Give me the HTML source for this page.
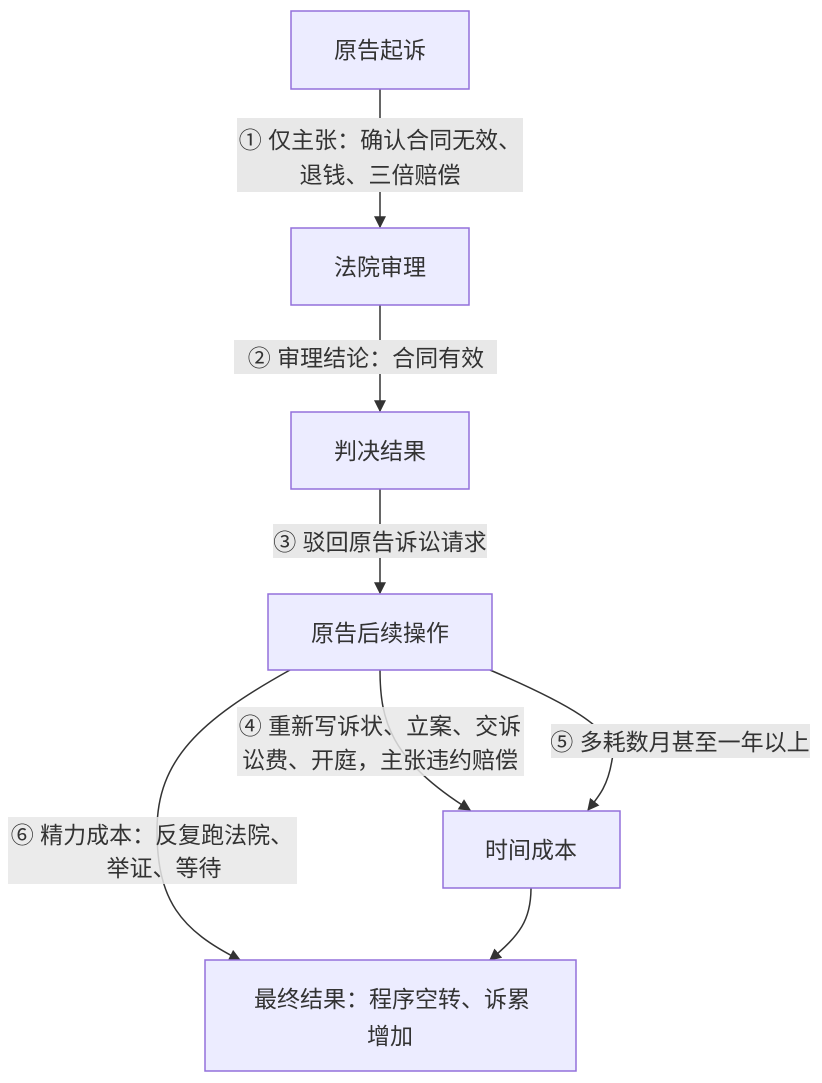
<!DOCTYPE html>
<html><head><meta charset="utf-8"><style>
html,body{margin:0;padding:0;background:#fff;width:822px;height:1083px;overflow:hidden}
text{font-family:"Liberation Sans","Noto Sans CJK SC",sans-serif;font-size:23px;fill:#333}
</style></head><body>
<svg width="822" height="1083" viewBox="0 0 822 1083" xmlns="http://www.w3.org/2000/svg">
<defs><marker id="a" viewBox="0 0 10 10" refX="9" refY="5" markerWidth="8" markerHeight="8" orient="auto"><path d="M0,0L10,5L0,10z" fill="#333"/></marker></defs>
<g stroke="#333" stroke-width="1.5" fill="none" marker-end="url(#a)">
<path d="M380,89V227"/>
<path d="M380,305V411"/>
<path d="M380,489V593"/>
<path d="M380,670C380,720 390,760 470,810"/>
<path d="M490,670C560,700 620,730 612,760C608,785 600,795 588,810"/>
<path d="M290,670C200,720 157,760 157,830C157,900 180,930 240,960"/>
<path d="M531,888C531,920 520,935 490,960"/>
</g>
<g fill="#e8e8e8">
<rect x="237" y="118" width="286" height="74"/>
<rect x="234" y="340" width="263" height="34"/>
<rect x="273" y="524" width="214" height="34"/>
<rect x="237" y="707" width="287" height="69" opacity="0.85"/>
<rect x="551" y="724" width="259" height="34"/>
<rect x="8" y="817" width="289" height="67" opacity="0.85"/>
</g>
<g fill="#ececff" stroke="#9370db" stroke-width="1.5">
<rect x="291" y="11" width="178" height="78"/>
<rect x="291" y="228" width="178" height="77"/>
<rect x="291" y="412" width="178" height="77"/>
<rect x="268" y="594" width="224" height="76"/>
<rect x="443" y="811" width="177" height="77"/>
<rect x="205" y="960" width="371" height="111"/>
</g>
<g text-anchor="middle">
<text x="380" y="58">原告起诉</text>
<text x="380" y="275">法院审理</text>
<text x="380" y="459">判决结果</text>
<text x="380" y="641">原告后续操作</text>
<text x="531" y="858">时间成本</text>
<text x="392" y="1007">最终结果：程序空转、诉累</text>
<text x="390" y="1044">增加</text>
<text x="380" y="148">① 仅主张：确认合同无效、</text>
<text x="380" y="183">退钱、三倍赔偿</text>
<text x="366" y="366">② 审理结论：合同有效</text>
<text x="380" y="550">③ 驳回原告诉讼请求</text>
<text x="380" y="734">④ 重新写诉状、立案、交诉</text>
<text x="380" y="768">讼费、开庭，主张违约赔偿</text>
<text x="680" y="750">⑤ 多耗数月甚至一年以上</text>
<text x="152" y="843">⑥ 精力成本：反复跑法院、</text>
<text x="164" y="876">举证、等待</text>
</g>
</svg>
</body></html>
